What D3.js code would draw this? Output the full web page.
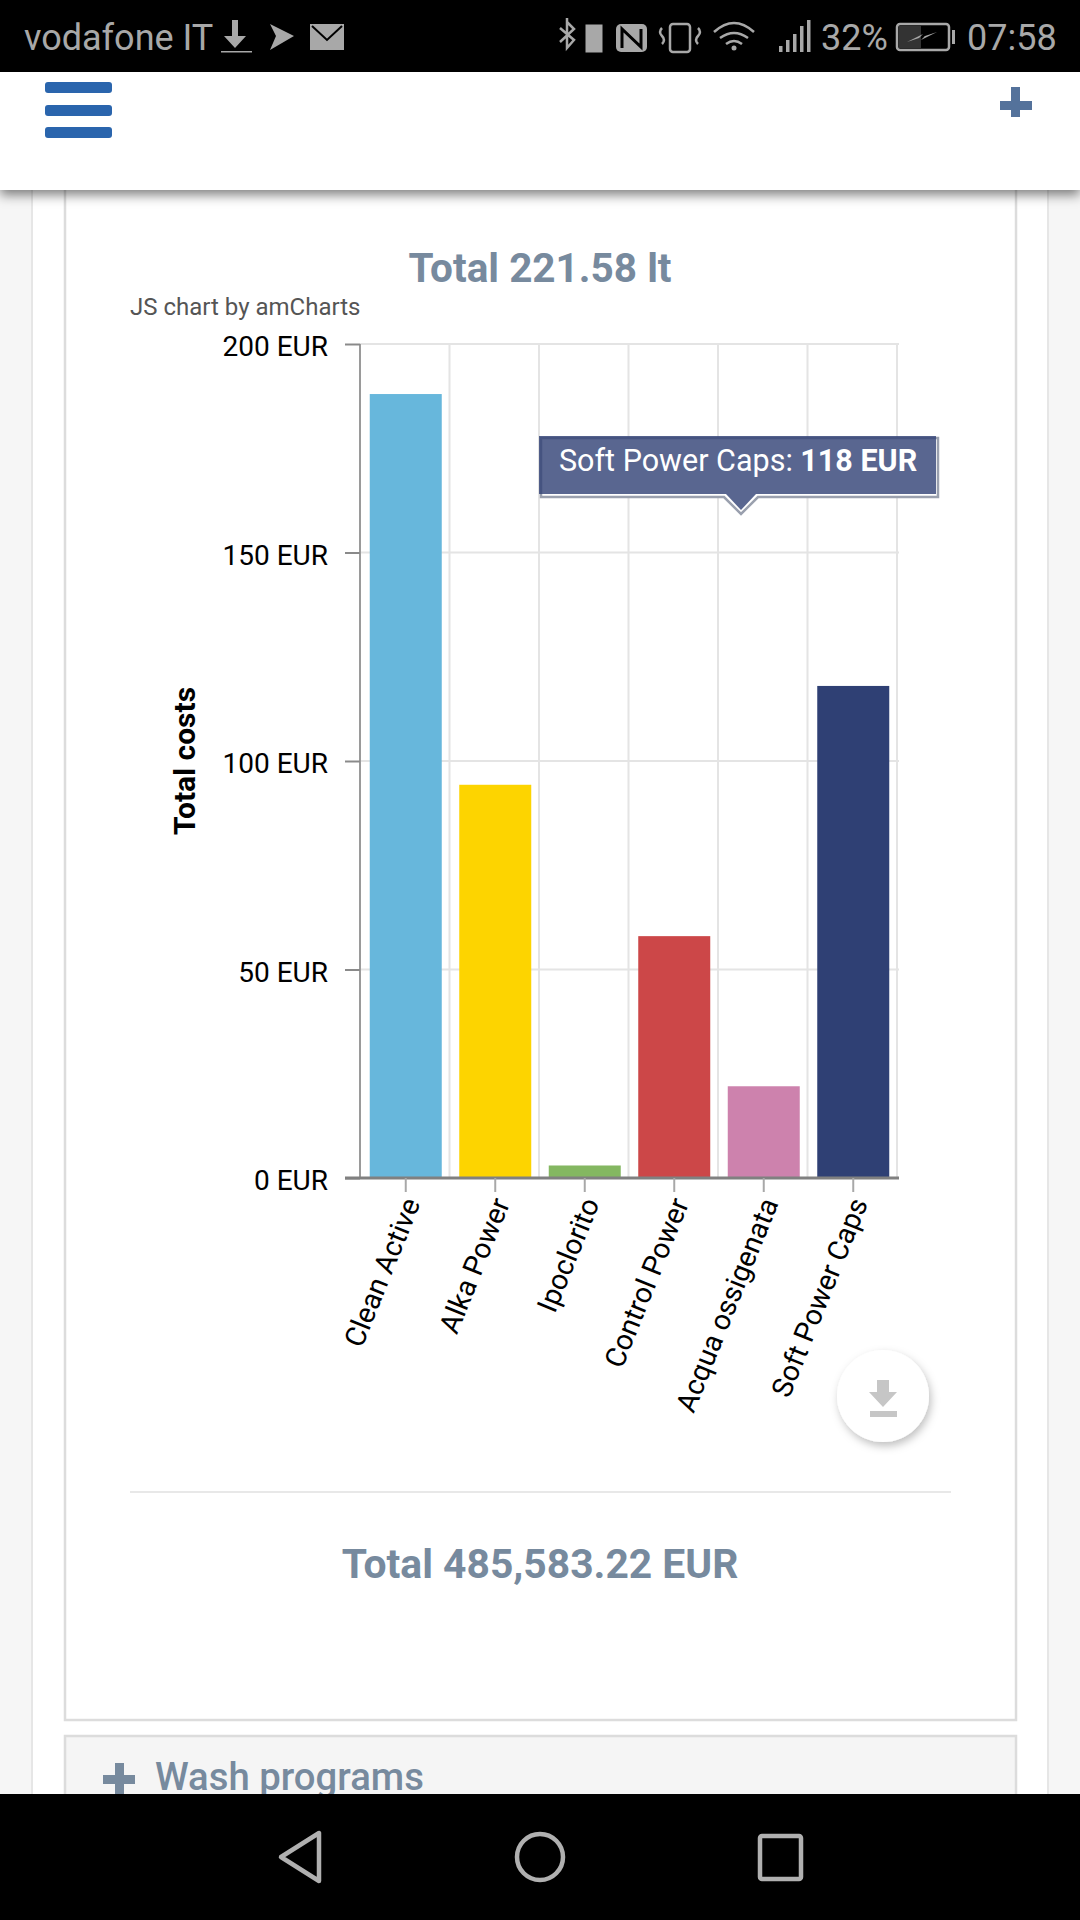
<!DOCTYPE html>
<html><head><meta charset="utf-8">
<script src="https://cdnjs.cloudflare.com/ajax/libs/d3/7.8.5/d3.min.js"></script>
<style>html,body{margin:0;padding:0;background:#fff;overflow:hidden}svg{display:block}text{font-family:Roboto,sans-serif}</style>
</head><body><div id="c"></div>
<script>
const categories=["Clean Active","Alka Power","Ipoclorito","Control Power","Acqua ossigenata","Soft Power Caps"];
const values=[188,94.3,3,58,22,118];
const colors=["#67b7dc","#fdd400","#84b761","#cc4748","#cd82ad","#2f4074"];
const yTicks=[0,50,100,150,200];
const titleTop="Total 221.58 lt";
const titleBottom="Total 485,583.22 EUR";
const yTitle="Total costs";
const credit="JS chart by amCharts";
const tooltipName="Soft Power Caps: ";
const tooltipValue="118 EUR";
const section="Wash programs";

const svg=d3.select("#c").append("svg").attr("width",1080).attr("height",1920);
const defs=svg.append("defs");
const f1=defs.append("filter").attr("id","hs").attr("x","-5%").attr("y","-20%").attr("width","110%").attr("height","150%");
f1.append("feDropShadow").attr("dx",0).attr("dy",5).attr("stdDeviation",6).attr("flood-color","#000").attr("flood-opacity",.5);
const f2=defs.append("filter").attr("id","bs").attr("x","-30%").attr("y","-30%").attr("width","160%").attr("height","160%");
f2.append("feDropShadow").attr("dx",2).attr("dy",4).attr("stdDeviation",4).attr("flood-color","#000").attr("flood-opacity",.25);

// page background and panels
svg.append("rect").attr("width",1080).attr("height",1920).attr("fill","#f6f6f6");
svg.append("rect").attr("x",32).attr("y",0).attr("width",1016).attr("height",1920).attr("fill","#fff").attr("stroke","#e6e6e6").attr("stroke-width",2);
svg.append("rect").attr("x",65).attr("y",100).attr("width",951).attr("height",1620).attr("fill","#fff").attr("stroke","#dcdcdc").attr("stroke-width",2.5);
svg.append("rect").attr("x",65).attr("y",1736).attr("width",951).attr("height",120).attr("fill","#f5f5f5").attr("stroke","#dcdcdc").attr("stroke-width",2.5);

// section row
const slate="#778a9e";
svg.append("text").attr("x",155).attr("y",1790).attr("font-size",38.3).attr("font-weight",500).attr("fill",slate).text(section);
svg.append("path").attr("d","M115 1763h9v12h11v9h-11v16h-9v-16h-12v-9h12z").attr("fill",slate);

// chart
const xStep=d3.scaleBand().domain(categories).range([361,898]);
const y=d3.scaleLinear().domain([0,200]).range([1178,344]);
const g=svg.append("g");

g.append("g").selectAll("line").data(yTicks.slice(1)).join("line")
 .attr("x1",360).attr("x2",899).attr("y1",d=>y(d)).attr("y2",d=>y(d)).attr("stroke","#e4e4e4").attr("stroke-width",2);
g.append("g").selectAll("line").data(categories).join("line")
 .attr("x1",d=>xStep(d)+xStep.step()-1).attr("x2",d=>xStep(d)+xStep.step()-1).attr("y1",344).attr("y2",1178).attr("stroke","#e4e4e4").attr("stroke-width",2);

g.append("g").selectAll("rect").data(categories).join("rect")
 .attr("x",d=>xStep(d)+xStep.step()/2-36).attr("width",72)
 .attr("y",(d,i)=>y(values[i])).attr("height",(d,i)=>y(0)-y(values[i]))
 .attr("fill",(d,i)=>colors[i]);

// y axis
const yAxis=g.append("g").attr("transform","translate(360,0)").call(d3.axisLeft(y).tickValues(yTicks).tickSize(15).tickPadding(17).tickFormat(d=>d+" EUR"));
yAxis.selectAll("line").attr("stroke","#8a8a8a").attr("stroke-width",2);
yAxis.select(".domain").attr("stroke","#9a9a9a").attr("stroke-width",2).attr("d","M0,344V1178");
yAxis.selectAll("text").attr("font-size",28).attr("fill","#000").style("font-family","Roboto").attr("y",3);

// x axis
const xAxis=g.append("g").attr("transform","translate(0,1178)").call(d3.axisBottom(xStep).tickSize(14).tickPadding(0));
xAxis.select(".domain").attr("stroke","#808080").attr("stroke-width",3).attr("d","M345,0H899");
xAxis.selectAll("line").attr("stroke","#a8a8a8").attr("stroke-width",2);
xAxis.selectAll("text").attr("font-size",28.5).attr("fill","#000").style("font-family","Roboto")
 .attr("text-anchor","end").attr("dy",0).attr("y",0)
 .attr("transform","translate(15,25) rotate(-68)");

// titles
svg.append("text").attr("x",540).attr("y",282).attr("text-anchor","middle").attr("font-size",40.5).attr("font-weight",700).attr("fill",slate).text(titleTop);
svg.append("text").attr("x",130).attr("y",315).attr("font-size",24).attr("fill","#555").text(credit);
svg.append("text").attr("transform","translate(195,761) rotate(-90)").attr("text-anchor","middle").attr("font-size",30).attr("font-weight",700).attr("fill","#000").text(yTitle);
svg.append("line").attr("x1",130).attr("x2",951).attr("y1",1492).attr("y2",1492).attr("stroke","#e8e8e8").attr("stroke-width",2);
svg.append("text").attr("x",540).attr("y",1578).attr("text-anchor","middle").attr("font-size",40.8).attr("font-weight",700).attr("fill",slate).text(titleBottom);

// tooltip
const tip=svg.append("g");
tip.append("path").attr("d","M541 438H938V497H758L741 514L724 497H541Z").attr("fill","#fff").attr("stroke","#9aa0ae").attr("stroke-width",2.5);
tip.append("path").attr("d","M539 436H936V494H756L741 510L726 494H539Z").attr("fill","#2f4074").attr("fill-opacity",.8);
const tt=tip.append("text").attr("x",559).attr("y",471).attr("font-size",30.5).attr("fill","#fff");
tt.append("tspan").text(tooltipName);
tt.append("tspan").attr("font-weight",700).text(tooltipValue);

// download button
svg.append("circle").attr("cx",883).attr("cy",1396).attr("r",46).attr("fill","#fff").attr("filter","url(#bs)");
svg.append("path").attr("d","M877 1380h12v12h8l-14 15l-14-15h8z M870 1411h27v6h-27z").attr("fill","#c6c6c6");

// app header
svg.append("rect").attr("x",0).attr("y",72).attr("width",1080).attr("height",118).attr("fill","#fff").attr("filter","url(#hs)");
svg.append("g").selectAll("rect").data([82,105,127]).join("rect").attr("x",45).attr("y",d=>d).attr("width",67).attr("height",11).attr("rx",3).attr("fill","#2a65ad");
svg.append("path").attr("d","M1011 87h9v14h12v9h-12v7h-9v-7h-11v-9h11z").attr("fill","#54729b");

// status bar
svg.append("rect").attr("width",1080).attr("height",72).attr("fill","#000");
const grey="#a8a8a8";
svg.append("text").attr("x",24).attr("y",50).attr("font-size",36).attr("fill",grey).text("vodafone IT");
svg.append("text").attr("x",821).attr("y",50).attr("font-size",36).attr("fill",grey).text("32%");
svg.append("text").attr("x",967).attr("y",50).attr("font-size",36).attr("fill",grey).text("07:58");
svg.append("path").attr("d","M232 20h6v16h8l-11 12l-11-12h8z").attr("fill",grey);
svg.append("rect").attr("x",221).attr("y",51).attr("width",31).attr("height",1.5).attr("fill",grey);
svg.append("path").attr("d","M270 24l24 12l-24 14l6-14z").attr("fill",grey);
svg.append("rect").attr("x",310).attr("y",24).attr("width",34).attr("height",26).attr("fill",grey);
svg.append("path").attr("d","M312 26l15 14l15-14").attr("fill","none").attr("stroke","#000").attr("stroke-width",2);
svg.append("path").attr("d","M560 28l14 12l-7 8v-30M560 42l14-13l-7-7").attr("fill","none").attr("stroke",grey).attr("stroke-width",2.5);
svg.append("rect").attr("x",586).attr("y",25).attr("width",16).attr("height",27).attr("fill",grey).attr("stroke",grey);
svg.append("rect").attr("x",616).attr("y",24).attr("width",31).attr("height",28).attr("rx",5).attr("fill",grey);
svg.append("path").attr("d","M622 48V29L641 47V29").attr("fill","none").attr("stroke","#000").attr("stroke-width",3);
svg.append("rect").attr("x",670).attr("y",24).attr("width",20).attr("height",28).attr("rx",3).attr("fill","none").attr("stroke",grey).attr("stroke-width",2.5);
svg.append("path").attr("d","M662 28q-4 4 0 8q4 4 0 8M698 28q4 4 0 8q-4 4 0 8").attr("fill","none").attr("stroke",grey).attr("stroke-width",2.5);
svg.append("path").attr("d","M714 32q20-18 40 0M720 38q14-10 28 0M726 44q8-6 16 0").attr("fill","none").attr("stroke",grey).attr("stroke-width",2.5);
svg.append("circle").attr("cx",734).attr("cy",48).attr("r",2.5).attr("fill",grey);
svg.append("g").selectAll("rect").data([6,12,18,26,32]).join("rect").attr("x",(d,i)=>779+i*7).attr("y",d=>52-d).attr("width",3.5).attr("height",d=>d).attr("fill",grey);
svg.append("rect").attr("x",897).attr("y",24).attr("width",52).attr("height",26).attr("rx",3).attr("fill","none").attr("stroke",grey).attr("stroke-width",2.5);
svg.append("rect").attr("x",899).attr("y",26).attr("width",22).attr("height",22).attr("fill","#333");
svg.append("path").attr("d","M907 42l18-6l-4 4l16-8l-18 6l4-4z").attr("fill",grey);
svg.append("rect").attr("x",952).attr("y",30).attr("width",3).attr("height",14).attr("fill",grey);

// nav bar
svg.append("rect").attr("x",0).attr("y",1794).attr("width",1080).attr("height",126).attr("fill","#000");
const nav=svg.append("g").attr("fill","none").attr("stroke","#b0b0b0").attr("stroke-width",4.5).attr("stroke-linejoin","round");
nav.append("path").attr("d","M281 1857L319 1833V1881Z");
nav.append("circle").attr("cx",540).attr("cy",1857).attr("r",23);
nav.append("rect").attr("x",760).attr("y",1836).attr("width",41).attr("height",43).attr("rx",2);
</script></body></html>
